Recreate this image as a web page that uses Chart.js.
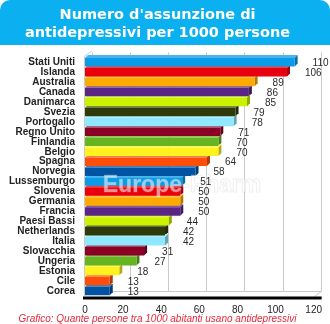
<!DOCTYPE html>
<html lang="it">
<head>
<meta charset="UTF-8">
<title>Antidepressivi per 1000 persone</title>
<script src="https://cdn.jsdelivr.net/npm/chart.js"></script>
<style>
  html, body { margin: 0; padding: 0; background: #fff; }
</style>
</head>
<body>
<canvas id="chart" width="330" height="324"></canvas>
<script>
  const paesi = ['Stati Uniti', 'Islanda', 'Australia', 'Canada', 'Danimarca', 'Svezia', 'Portogallo',
    'Regno Unito', 'Finlandia', 'Belgio', 'Spagna', 'Norvegia', 'Lussemburgo', 'Slovenia', 'Germania',
    'Francia', 'Paesi Bassi', 'Netherlands', 'Italia', 'Slovacchia', 'Ungeria', 'Estonia', 'Cile', 'Corea'];
  const valori = [110, 106, 89, 86, 85, 79, 78, 71, 70, 70, 64, 58, 51, 50, 50, 50, 44, 42, 42, 31, 27, 18, 13, 13];
  const tickValori = [0, 20, 40, 60, 80, 100, 120];

  const colori = ['#0A9CE8', '#E8000E', '#FFAA00', '#5A2585', '#CCF200', '#2F3A0A',
    '#90E8FF', '#8C0026', '#66B422', '#FFF21E', '#FF4E0A', '#0052A2'];
  const fontBase = 'Liberation Sans, Arial, sans-serif';

  // schiarisce (f > 0) o scurisce (f < 0) un colore esadecimale
  function tono(hex, f) {
    const n = parseInt(hex.slice(1), 16);
    const c = [n >> 16, (n >> 8) & 255, n & 255].map(v =>
      Math.round(f < 0 ? v * (1 + f) : v + (255 - v) * f));
    return `rgb(${c[0]},${c[1]},${c[2]})`;
  }

  const DX = 7, DY = 5, PROF = 3;

  const effetto3d = {
    id: 'effetto3d',
    beforeDraw(chart) {
      const ctx = chart.ctx;
      ctx.save();
      ctx.fillStyle = '#0AB0F0';
      ctx.beginPath();
      ctx.roundRect(0, 0, chart.width, 45, [10, 10, 0, 0]);
      ctx.fill();
      ctx.restore();
    },
    beforeDatasetsDraw(chart) {
      const { ctx, chartArea: a, scales: { x } } = chart;
      ctx.save();
      ctx.strokeStyle = '#CACACA';
      ctx.lineWidth = 1;

      // griglia sulla parete di fondo
      tickValori.forEach(v => {
        const px = Math.round(x.getPixelForValue(v)) + DX + 0.5;
        ctx.beginPath();
        ctx.moveTo(px, a.top - DY);
        ctx.lineTo(px, a.bottom - DY);
        ctx.stroke();
      });
      // pavimento e spigolo destro
      const l = Math.round(a.left) - 0.5, r = Math.round(x.getPixelForValue(120)) + DX + 0.5;
      ctx.beginPath();
      ctx.moveTo(l + DX, a.bottom - DY + 0.5);
      ctx.lineTo(r, a.bottom - DY + 0.5);
      ctx.lineTo(r - DX, a.bottom + 0.5);
      ctx.stroke();
      // parete sinistra
      ctx.beginPath();
      ctx.moveTo(l, a.bottom);
      ctx.lineTo(l, a.top - 1);
      ctx.lineTo(l + DX, a.top - DY - 1);
      ctx.stroke();

      // facce superiori e laterali delle barre
      const meta = chart.getDatasetMeta(0);
      meta.data.forEach((bar, i) => {
        const { x: fine, base, y, height } = bar.getProps(['x', 'base', 'y', 'height'], true);
        const col = colori[i % colori.length];
        const t = y - height / 2, b = y + height / 2;
        ctx.fillStyle = tono(col, 0.25);
        ctx.beginPath();
        ctx.moveTo(base, t);
        ctx.lineTo(base + PROF, t - PROF);
        ctx.lineTo(fine + PROF, t - PROF);
        ctx.lineTo(fine, t);
        ctx.closePath();
        ctx.fill();
        ctx.fillStyle = tono(col, -0.3);
        ctx.beginPath();
        ctx.moveTo(fine, t);
        ctx.lineTo(fine + PROF, t - PROF);
        ctx.lineTo(fine + PROF, b - PROF);
        ctx.lineTo(fine, b);
        ctx.closePath();
        ctx.fill();
      });
      ctx.restore();
    },
    afterDatasetsDraw(chart) {
      const { ctx, chartArea: a, scales: { x } } = chart;
      ctx.save();

      // asse orizzontale in primo piano
      ctx.strokeStyle = '#000';
      ctx.lineWidth = 3;
      ctx.beginPath();
      ctx.moveTo(a.left - 2, a.bottom + 2);
      ctx.lineTo(x.getPixelForValue(120) + DX + 1, a.bottom + 2);
      ctx.stroke();

      // filigrana
      ctx.font = 'bold 23px ' + fontBase;
      ctx.textAlign = 'center';
      ctx.textBaseline = 'middle';
      ctx.fillStyle = 'rgba(255,255,255,0.55)';
      ctx.strokeStyle = 'rgba(190,190,190,0.25)';
      ctx.lineWidth = 1;
      ctx.fillText('Europe-Pharm', 182, 186);
      ctx.strokeText('Europe-Pharm', 182, 186);

      // valori a destra delle barre
      ctx.font = '10px ' + fontBase;
      ctx.textAlign = 'left';
      ctx.fillStyle = '#2A2A2A';
      chart.getDatasetMeta(0).data.forEach((bar, i) => {
        ctx.fillText(String(valori[i]), bar.x + 18, bar.y + 1);
      });
      ctx.restore();
    }
  };

  new Chart(document.getElementById('chart'), {
    type: 'bar',
    data: {
      labels: paesi,
      datasets: [{
        data: valori,
        backgroundColor: paesi.map((_, i) => colori[i % colori.length]),
        barPercentage: 0.85,
        categoryPercentage: 1
      }]
    },
    options: {
      indexAxis: 'y',
      responsive: false,
      animation: false,
      layout: { padding: { left: 0, right: 15, top: 0, bottom: 0 } },
      plugins: {
        legend: { display: false },
        tooltip: { enabled: false },
        title: {
          display: true,
          text: ["Numero d'assunzione di", 'antidepressivi per 1000 persone'],
          color: '#fff',
          font: { family: 'DejaVu Sans, Verdana, sans-serif', weight: 'bold', size: 14.5, lineHeight: 1.25 },
          padding: { top: 6, bottom: 15 }
        },
        subtitle: {
          display: true,
          position: 'bottom',
          text: 'Grafico: Quante persone tra 1000 abitanti usano antidepressivi',
          color: '#E8283A',
          font: { family: fontBase, style: 'italic', size: 10, lineHeight: 1 },
          padding: { top: 0, bottom: 0 }
        }
      },
      scales: {
        x: {
          min: 0,
          max: 120,
          afterBuildTicks: s => { s.ticks = tickValori.map(v => ({ value: v })); },
          afterFit: s => { s.height = 18; },
          grid: { display: false, drawTicks: false },
          border: { display: false },
          ticks: { color: '#222', font: { family: fontBase, size: 10 }, padding: 8 }
        },
        y: {
          grid: { display: false, drawTicks: false },
          border: { display: false },
          ticks: { color: '#222', font: { family: fontBase, weight: 'bold', size: 10 }, padding: 10, autoSkip: false },
          afterFit: s => { s.width = 85; }
        }
      }
    },
    plugins: [effetto3d]
  });
</script>
</body>
</html>
